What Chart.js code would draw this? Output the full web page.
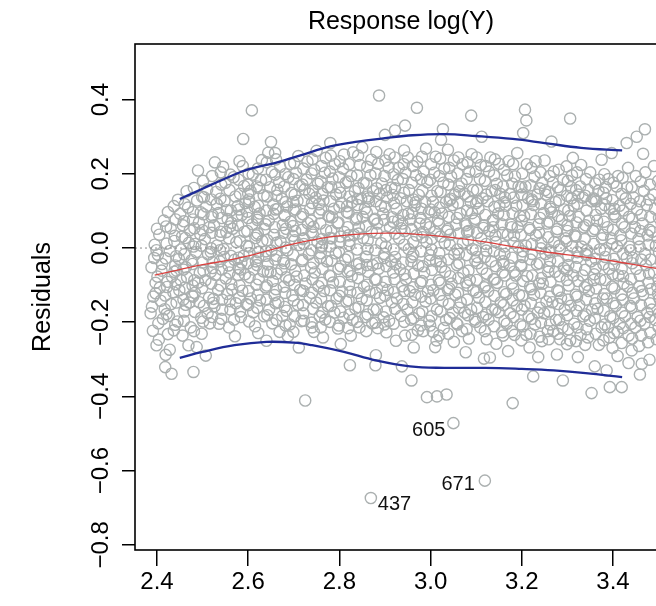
<!DOCTYPE html>
<html>
<head>
<meta charset="utf-8">
<script src="https://cdn.jsdelivr.net/npm/chart.js@4.4.1/dist/chart.umd.min.js"></script>
<style>
html,body{margin:0;padding:0;background:#fff;overflow:hidden;}
canvas{display:block;}
</style>
</head>
<body>
<canvas id="c" width="680" height="606"></canvas>
<script>
const xTicks = [2.4, 2.6, 2.8, 3.0, 3.2, 3.4];
const yTicks = [-0.8, -0.6, -0.4, -0.2, 0.0, 0.2, 0.4];

// fitted value (x), residual (y)
const residPairs = [
[2.388,-0.052],[2.392,-0.131],[2.386,-0.176],[2.395,0.009],[2.391,-0.223],[2.397,-0.094],[2.389,-0.158],[2.394,-0.027],[2.399,-0.262],
[2.405,0.036],[2.41,-0.061],[2.408,-0.142],[2.413,-0.191],[2.404,-0.247],[2.415,0.074],[2.406,-0.107],[2.417,-0.165],[2.402,-0.018],[2.418,-0.321],[2.411,-0.043],[2.419,-0.288],
[2.424,0.097],[2.43,0.053],[2.428,-0.008],[2.433,-0.077],[2.436,-0.119],[2.426,-0.183],[2.428,-0.274],[2.432,-0.339],[2.438,0.019],[2.422,-0.105],[2.437,-0.222],[2.431,-0.151],[2.44,-0.047],
[2.446,0.13],[2.451,0.092],[2.455,0.031],[2.448,-0.029],[2.452,-0.086],[2.458,-0.139],[2.445,-0.198],[2.456,-0.236],[2.449,-0.114],[2.457,0.061],[2.443,-0.061],[2.46,-0.171],[2.453,-0.004],
[2.468,0.109],[2.472,0.048],[2.47,0.014],[2.476,-0.033],[2.466,-0.079],[2.478,-0.101],[2.471,-0.147],[2.474,-0.214],[2.48,-0.334],[2.465,0.153],[2.477,-0.128],[2.469,-0.262],[2.463,-0.052],[2.479,0.077],
[2.49,0.209],[2.488,0.128],[2.492,0.069],[2.495,0.037],[2.486,-0.011],[2.494,-0.067],[2.49,-0.093],[2.498,-0.231],[2.487,-0.267],[2.493,-0.146],[2.497,-0.188],[2.484,0.011],[2.5,-0.039],[2.483,-0.121],[2.496,0.096],
[2.51,0.158],[2.508,0.112],[2.515,0.056],[2.505,0.024],[2.512,-0.017],[2.518,-0.064],[2.506,-0.087],[2.514,-0.134],[2.511,-0.176],[2.516,-0.203],[2.503,0.137],[2.519,-0.001],[2.507,-0.29],[2.52,0.083],
[2.527,0.231],[2.53,0.151],[2.535,0.094],[2.525,0.061],[2.532,0.007],[2.538,-0.036],[2.528,-0.072],[2.534,-0.113],[2.526,-0.157],[2.536,-0.204],[2.531,0.119],[2.522,-0.054],[2.539,0.034],[2.524,-0.137],
[2.545,0.219],[2.55,0.176],[2.548,0.127],[2.555,0.078],[2.552,0.043],[2.546,-0.003],[2.557,-0.047],[2.551,-0.082],[2.554,-0.124],[2.543,-0.166],[2.558,-0.214],[2.553,0.102],[2.547,-0.024],[2.56,-0.143],
[2.571,-0.238],[2.568,0.191],[2.572,0.139],[2.575,0.087],[2.566,0.052],[2.574,0.016],[2.57,-0.032],[2.578,-0.073],[2.565,-0.112],[2.573,-0.149],[2.569,-0.193],[2.577,0.113],[2.563,0.068],[2.579,-0.054],
[2.589,0.294],[2.588,0.221],[2.591,0.167],[2.594,0.121],[2.586,0.089],[2.592,0.044],[2.597,0.006],[2.585,-0.039],[2.593,-0.071],[2.587,-0.115],[2.596,-0.151],[2.584,-0.186],[2.598,0.098],[2.59,-0.021],[2.6,0.146],
[2.608,0.371],[2.61,0.198],[2.605,0.154],[2.614,0.111],[2.609,0.064],[2.616,0.027],[2.603,-0.014],[2.612,-0.058],[2.618,-0.099],[2.606,-0.136],[2.611,-0.173],[2.615,-0.211],[2.602,0.131],[2.617,-0.036],[2.62,0.082],
[2.63,0.237],[2.628,0.183],[2.634,0.142],[2.625,0.093],[2.636,0.051],[2.631,0.019],[2.622,-0.026],[2.633,-0.063],[2.638,-0.106],[2.626,-0.141],[2.635,-0.184],[2.621,0.039],[2.64,-0.25],[2.624,0.162],[2.639,-0.009],
[2.65,0.286],[2.644,0.257],[2.659,0.256],[2.652,0.205],[2.648,0.164],[2.655,0.117],[2.645,0.074],[2.657,0.036],[2.651,-0.007],[2.643,-0.044],[2.654,-0.089],[2.658,-0.127],[2.646,-0.166],[2.653,-0.203],[2.656,0.092],[2.649,-0.065],
[2.67,0.219],[2.668,0.177],[2.674,0.133],[2.665,0.106],[2.676,0.062],[2.671,0.018],[2.662,-0.021],[2.673,-0.058],[2.678,-0.104],[2.666,-0.146],[2.675,-0.183],[2.669,-0.226],[2.664,0.157],[2.677,-0.034],[2.68,0.087],
[2.692,0.227],[2.688,0.191],[2.695,0.148],[2.685,0.112],[2.693,0.071],[2.698,0.033],[2.686,-0.006],[2.694,-0.044],[2.69,-0.087],[2.697,-0.128],[2.684,-0.169],[2.687,-0.238],[2.699,0.124],[2.691,-0.206],[2.683,0.052],
[2.71,0.248],[2.705,0.203],[2.713,0.167],[2.708,0.127],[2.716,0.084],[2.703,0.046],[2.712,0.008],[2.718,-0.035],[2.706,-0.077],[2.714,-0.113],[2.709,-0.153],[2.717,-0.197],[2.704,0.104],[2.711,-0.268],[2.72,0.024],
[2.73,0.233],[2.728,0.184],[2.734,0.146],[2.725,-0.411],[2.736,0.106],[2.731,0.067],[2.722,0.026],[2.733,-0.017],[2.738,-0.053],[2.726,-0.096],[2.735,-0.134],[2.721,-0.176],[2.74,-0.214],[2.724,0.158],[2.739,0.043],
[2.75,0.262],[2.745,0.211],[2.753,0.173],[2.748,0.136],[2.756,0.094],[2.743,0.057],[2.752,0.016],[2.758,-0.026],[2.746,-0.066],[2.754,-0.103],[2.749,-0.147],[2.757,-0.184],[2.744,-0.226],[2.755,0.118],[2.76,0.002],
[2.764,-0.241],[2.77,0.243],[2.768,0.203],[2.774,0.164],[2.765,0.128],[2.776,0.087],[2.771,0.048],[2.762,0.006],[2.773,-0.036],[2.778,-0.074],[2.766,-0.116],[2.775,-0.157],[2.769,-0.193],[2.763,0.147],[2.779,0.027],
[2.78,0.283],[2.79,0.226],[2.785,0.187],[2.793,0.144],[2.788,0.106],[2.796,0.067],[2.783,0.026],[2.792,-0.014],[2.798,-0.056],[2.786,-0.093],[2.794,-0.136],[2.789,-0.174],[2.797,-0.217],[2.784,0.083],[2.8,0.163],
[2.81,0.252],[2.808,0.214],[2.814,0.176],[2.805,0.122],[2.816,0.097],[2.811,0.043],[2.802,0.017],[2.813,-0.031],[2.818,-0.064],[2.806,-0.117],[2.815,-0.144],[2.809,-0.188],[2.803,-0.259],[2.817,0.113],[2.82,0.034],
[2.823,-0.316],[2.824,-0.118],[2.83,0.258],[2.826,0.194],[2.834,0.153],[2.828,0.124],[2.836,0.077],[2.832,0.036],[2.822,0.008],[2.838,-0.044],[2.827,-0.076],[2.835,-0.163],[2.829,-0.194],[2.825,-0.236],[2.84,0.132],
[2.85,0.271],[2.845,0.224],[2.853,0.176],[2.848,0.133],[2.856,0.106],[2.843,0.056],[2.852,0.027],[2.858,-0.023],[2.846,-0.057],[2.854,-0.104],[2.849,-0.137],[2.857,-0.186],[2.844,-0.214],[2.851,0.084],[2.86,-0.046],
[2.869,-0.674],[2.87,0.238],[2.868,0.196],[2.874,0.153],[2.865,0.126],[2.876,0.076],[2.871,0.044],[2.862,-0.003],[2.873,-0.046],[2.878,-0.084],[2.866,-0.117],[2.875,-0.166],[2.88,-0.289],[2.879,-0.316],[2.864,0.134],[2.872,-0.203],
[2.887,0.411],[2.9,0.305],[2.885,0.227],[2.893,0.174],[2.888,0.146],[2.896,0.093],[2.883,0.066],[2.892,0.013],[2.898,-0.027],[2.886,-0.056],[2.894,-0.107],[2.889,-0.134],[2.897,-0.187],[2.884,-0.216],[2.891,0.114],
[2.922,0.317],[2.91,0.253],[2.908,0.217],[2.914,0.163],[2.905,0.136],[2.916,0.083],[2.911,0.056],[2.902,0.004],[2.913,-0.036],[2.918,-0.066],[2.906,-0.113],[2.915,-0.146],[2.909,-0.196],[2.903,-0.227],[2.917,0.143],
[2.944,0.33],[2.942,0.263],[2.924,-0.25],[2.937,-0.319],[2.93,0.216],[2.928,0.183],[2.934,0.134],[2.925,0.106],[2.936,0.053],[2.931,0.026],[2.922,-0.024],[2.933,-0.057],[2.938,-0.103],[2.926,-0.136],[2.935,-0.183],[2.929,0.074],
[2.958,-0.357],[2.95,0.244],[2.945,0.203],[2.953,0.156],[2.948,0.126],[2.956,0.077],[2.943,0.046],[2.952,-0.003],[2.958,-0.036],[2.946,-0.084],[2.954,-0.116],[2.949,-0.166],[2.957,-0.193],[2.944,-0.236],[2.951,0.093],
[2.97,0.378],[2.972,-0.222],[2.971,0.233],[2.968,0.196],[2.974,0.143],[2.965,0.114],[2.976,0.066],[2.969,0.034],[2.962,-0.017],[2.973,-0.047],[2.978,-0.094],[2.966,-0.126],[2.975,-0.176],[2.967,0.123],[2.963,-0.268],
[2.992,-0.402],[2.99,0.268],[2.985,0.206],[2.993,0.177],[2.988,0.124],[2.996,0.096],[2.983,0.043],[2.991,0.016],[2.998,-0.034],[2.986,-0.066],[2.994,-0.117],[2.989,-0.144],[2.997,-0.196],[2.984,-0.224],[2.99,0.064],
[3.005,-0.226],[3.013,-0.249],[3.01,-0.267],[3.014,-0.4],[3.011,0.246],[3.008,0.203],[3.015,0.153],[3.005,0.124],[3.016,0.074],[3.01,0.044],[3.002,-0.004],[3.012,-0.036],[3.018,-0.087],[3.006,-0.114],[3.014,-0.166],[3.009,0.096],
[3.027,0.32],[3.023,0.292],[3.038,0.265],[3.035,-0.395],[3.03,0.214],[3.028,0.176],[3.034,0.124],[3.025,0.093],[3.036,0.046],[3.031,0.014],[3.022,-0.036],[3.032,-0.064],[3.038,-0.113],[3.026,-0.143],[3.034,-0.194],[3.029,-0.216],
[3.05,-0.472],[3.051,0.236],[3.045,0.193],[3.053,0.144],[3.048,0.116],[3.056,0.063],[3.043,0.036],[3.052,-0.017],[3.058,-0.046],[3.046,-0.096],[3.054,-0.126],[3.049,-0.174],[3.057,-0.203],[3.044,0.133],[3.051,-0.253],
[3.07,0.226],[3.068,0.174],[3.074,0.146],[3.065,0.093],[3.076,0.066],[3.071,0.014],[3.062,-0.016],[3.072,-0.067],[3.078,-0.093],[3.066,-0.146],[3.075,-0.174],[3.069,-0.224],[3.063,0.153],[3.077,-0.281],[3.08,0.043],
[3.089,0.357],[3.09,0.253],[3.085,0.206],[3.093,0.156],[3.088,0.124],[3.096,0.074],[3.083,0.046],[3.092,-0.003],[3.098,-0.034],[3.086,-0.086],[3.094,-0.114],[3.089,-0.166],[3.097,-0.193],[3.084,-0.244],[3.091,0.094],
[3.112,0.3],[3.119,-0.627],[3.11,0.224],[3.108,0.186],[3.114,0.134],[3.105,0.106],[3.116,0.054],[3.111,0.026],[3.102,-0.024],[3.113,-0.056],[3.118,-0.106],[3.106,-0.134],[3.115,-0.186],[3.109,-0.214],[3.103,0.126],[3.117,-0.298],
[3.13,-0.295],[3.131,0.244],[3.128,0.206],[3.134,0.153],[3.125,0.126],[3.136,0.074],[3.129,0.046],[3.122,-0.007],[3.133,-0.036],[3.138,-0.084],[3.126,-0.116],[3.135,-0.166],[3.127,-0.193],[3.123,-0.246],[3.137,0.056],
[3.15,0.227],[3.145,0.173],[3.153,0.146],[3.148,0.093],[3.156,0.064],[3.143,0.016],[3.152,-0.017],[3.158,-0.066],[3.146,-0.094],[3.154,-0.146],[3.149,-0.173],[3.157,-0.227],[3.144,-0.258],[3.151,0.114],[3.16,-0.043],
[3.17,-0.278],[3.18,-0.418],[3.171,0.234],[3.168,0.196],[3.174,0.146],[3.165,0.114],[3.176,0.063],[3.169,0.036],[3.162,-0.016],[3.173,-0.047],[3.178,-0.096],[3.166,-0.124],[3.175,-0.176],[3.167,-0.204],[3.163,0.136],
[3.19,0.256],[3.185,0.193],[3.193,0.166],[3.188,0.114],[3.196,0.086],[3.183,0.034],[3.192,0.003],[3.198,-0.046],[3.186,-0.074],[3.194,-0.126],[3.189,-0.156],[3.197,-0.206],[3.184,-0.234],[3.191,0.056],[3.2,0.144],
[3.207,0.373],[3.21,0.344],[3.203,0.31],[3.211,0.226],[3.208,0.166],[3.214,0.134],[3.205,0.086],[3.216,0.054],[3.209,0.006],[3.202,-0.024],[3.212,-0.076],[3.218,-0.104],[3.206,-0.156],[3.215,-0.184],[3.21,-0.234],[3.217,-0.268],
[3.225,-0.346],[3.236,-0.294],[3.23,0.234],[3.228,0.193],[3.234,0.144],[3.226,0.116],[3.237,0.064],[3.231,0.034],[3.222,-0.016],[3.233,-0.044],[3.238,-0.096],[3.227,-0.126],[3.235,-0.174],[3.229,-0.206],[3.223,0.126],
[3.25,0.236],[3.245,0.176],[3.253,0.144],[3.248,0.094],[3.256,0.066],[3.243,0.014],[3.252,-0.016],[3.258,-0.064],[3.246,-0.096],[3.254,-0.144],[3.249,-0.176],[3.257,-0.224],[3.244,-0.251],[3.251,0.156],[3.26,-0.006],
[3.265,0.287],[3.277,-0.287],[3.27,0.206],[3.268,0.176],[3.274,0.124],[3.266,0.096],[3.276,0.044],[3.271,0.016],[3.262,-0.034],[3.273,-0.064],[3.278,-0.114],[3.267,-0.146],[3.275,-0.194],[3.269,-0.224],[3.263,0.106],
[3.29,-0.357],[3.298,0.22],[3.291,0.184],[3.285,0.156],[3.293,0.104],[3.288,0.076],[3.296,0.026],[3.283,-0.004],[3.292,-0.054],[3.299,-0.086],[3.286,-0.134],[3.294,-0.166],[3.289,-0.214],[3.284,-0.246],[3.3,0.046],
[3.306,0.349],[3.312,0.243],[3.306,-0.249],[3.31,0.196],[3.308,0.164],[3.314,0.114],[3.305,0.086],[3.316,0.034],[3.311,0.004],[3.302,-0.046],[3.313,-0.074],[3.318,-0.126],[3.307,-0.156],[3.315,-0.204],[3.309,0.134],
[3.323,-0.294],[3.33,0.224],[3.328,0.166],[3.334,0.136],[3.325,0.084],[3.336,0.056],[3.331,0.004],[3.322,-0.026],[3.333,-0.074],[3.338,-0.106],[3.326,-0.154],[3.335,-0.184],[3.329,-0.234],[3.324,0.144],[3.34,-0.016],
[3.345,-0.241],[3.353,-0.391],[3.36,-0.319],[3.35,0.204],[3.346,0.156],[3.353,0.126],[3.348,0.074],[3.356,0.046],[3.343,-0.006],[3.352,-0.036],[3.358,-0.086],[3.347,-0.116],[3.354,-0.166],[3.349,-0.196],[3.357,0.134],
[3.375,0.238],[3.386,-0.33],[3.37,0.184],[3.368,0.154],[3.374,0.106],[3.365,0.074],[3.376,0.026],[3.371,-0.004],[3.362,-0.054],[3.372,-0.084],[3.378,-0.136],[3.366,-0.164],[3.375,-0.214],[3.369,-0.261],[3.363,0.126],
[3.397,0.256],[3.393,-0.375],[3.392,-0.241],[3.39,0.186],[3.385,0.134],[3.393,0.106],[3.388,0.056],[3.396,0.026],[3.383,-0.024],[3.391,-0.056],[3.398,-0.104],[3.386,-0.136],[3.394,-0.184],[3.389,-0.214],[3.384,0.164],
[3.41,-0.226],[3.419,-0.375],[3.411,0.194],[3.408,0.166],[3.414,0.114],[3.405,0.084],[3.416,0.034],[3.409,0.004],[3.402,-0.046],[3.412,-0.074],[3.418,-0.126],[3.406,-0.156],[3.415,-0.204],[3.41,-0.291],[3.403,0.106],
[3.43,0.283],[3.433,0.216],[3.441,-0.276],[3.434,-0.31],[3.431,0.164],[3.428,0.134],[3.435,0.084],[3.425,0.056],[3.436,0.004],[3.43,-0.026],[3.422,-0.076],[3.432,-0.104],[3.438,-0.156],[3.426,-0.184],[3.434,-0.236],
[3.452,0.3],[3.459,-0.341],[3.466,0.254],[3.463,-0.312],[3.45,0.194],[3.445,0.136],[3.453,0.104],[3.448,0.056],[3.456,0.024],[3.443,-0.026],[3.451,-0.056],[3.458,-0.104],[3.446,-0.136],[3.454,-0.186],[3.449,-0.214],[3.457,-0.264],
[3.47,0.32],[3.471,0.204],[3.468,0.154],[3.474,0.116],[3.465,0.066],[3.476,0.034],[3.47,-0.016],[3.472,-0.046],[3.478,-0.094],[3.466,-0.126],[3.475,-0.174],[3.469,-0.204],[3.477,-0.254],[3.48,-0.301],
[3.49,0.221],[3.488,0.144],[3.492,0.106],[3.486,0.044],[3.494,0.006],[3.49,-0.066],[3.497,-0.104],[3.485,-0.166],[3.493,-0.194],[3.496,-0.246],[3.503,0.126],[3.505,-0.036],[3.502,-0.137],[3.507,0.066]
];

// further observations filling the dense central band
const residPairsCore = [
[2.399,-0.006],[2.401,-0.077],[2.397,-0.122],[2.403,-0.203],[2.4,0.052],
[2.421,0.012],[2.419,-0.028],[2.423,-0.091],[2.418,-0.128],[2.421,-0.178],[2.424,-0.232],[2.42,0.058],
[2.441,0.077],[2.439,0.033],[2.442,-0.022],[2.438,-0.064],[2.441,-0.098],[2.443,-0.147],[2.44,-0.207],[2.437,0.113],
[2.461,0.118],[2.459,0.072],[2.462,0.027],[2.46,-0.017],[2.458,-0.058],[2.461,-0.107],[2.463,-0.153],[2.459,-0.196],
[2.481,0.162],[2.479,0.097],[2.482,0.053],[2.48,0.004],[2.478,-0.043],[2.482,-0.087],[2.479,-0.131],[2.483,-0.172],[2.481,-0.224],
[2.501,0.181],[2.499,0.138],[2.502,0.091],[2.5,0.048],[2.498,0.006],[2.502,-0.061],[2.499,-0.108],[2.503,-0.156],[2.501,-0.198],
[2.521,0.194],[2.519,0.131],[2.522,0.088],[2.52,0.041],[2.518,-0.011],[2.522,-0.038],[2.519,-0.096],[2.523,-0.148],[2.521,-0.186],
[2.541,0.171],[2.539,0.133],[2.542,0.081],[2.54,0.044],[2.538,-0.006],[2.542,-0.058],[2.539,-0.101],[2.543,-0.139],[2.541,-0.191],[2.54,0.204],
[2.561,0.198],[2.559,0.156],[2.562,0.101],[2.56,0.058],[2.558,0.026],[2.562,-0.021],[2.559,-0.066],[2.563,-0.098],[2.561,-0.166],
[2.581,0.234],[2.579,0.184],[2.582,0.146],[2.58,0.104],[2.578,0.061],[2.582,0.019],[2.579,-0.026],[2.583,-0.058],[2.581,-0.101],[2.58,-0.134],[2.582,-0.171],
[2.601,0.201],[2.599,0.171],[2.602,0.124],[2.6,0.081],[2.598,0.046],[2.602,0.004],[2.599,-0.041],[2.603,-0.079],[2.601,-0.116],[2.6,-0.154],[2.602,-0.198],
[2.621,0.214],[2.619,0.166],[2.622,0.114],[2.62,0.076],[2.618,0.034],[2.622,-0.011],[2.619,-0.046],[2.623,-0.084],[2.621,-0.126],[2.62,-0.161],[2.622,-0.229],
[2.641,0.231],[2.639,0.184],[2.642,0.139],[2.64,0.101],[2.638,0.064],[2.642,0.021],[2.639,-0.021],[2.643,-0.064],[2.641,-0.101],[2.64,-0.139],[2.642,-0.181],
[2.661,0.239],[2.659,0.198],[2.662,0.141],[2.66,0.104],[2.658,0.056],[2.662,0.014],[2.659,-0.031],[2.663,-0.069],[2.661,-0.111],[2.66,-0.149],[2.662,-0.194],
[2.681,0.199],[2.679,0.166],[2.682,0.124],[2.68,0.089],[2.678,0.041],[2.682,0.001],[2.679,-0.041],[2.683,-0.079],[2.681,-0.121],[2.68,-0.159],[2.682,-0.209],
[2.701,0.229],[2.699,0.186],[2.702,0.144],[2.7,0.101],[2.698,0.059],[2.702,0.021],[2.699,-0.019],[2.703,-0.061],[2.701,-0.099],[2.7,-0.141],[2.702,-0.184],[2.699,-0.226],
[2.721,0.214],[2.719,0.171],[2.722,0.129],[2.72,0.091],[2.718,0.049],[2.722,0.011],[2.719,-0.031],[2.723,-0.074],[2.721,-0.116],[2.72,-0.154],[2.722,-0.196],
[2.741,0.239],[2.739,0.201],[2.742,0.154],[2.74,0.121],[2.738,0.074],[2.742,0.036],[2.739,-0.006],[2.743,-0.041],[2.741,-0.084],[2.74,-0.121],[2.742,-0.164],[2.739,-0.201],
[2.761,0.221],[2.759,0.179],[2.762,0.146],[2.76,0.104],[2.758,0.066],[2.762,0.024],[2.759,-0.014],[2.763,-0.056],[2.761,-0.094],[2.76,-0.136],[2.762,-0.174],[2.759,-0.214],
[2.781,0.249],[2.779,0.206],[2.782,0.164],[2.78,0.126],[2.778,0.084],[2.782,0.046],[2.779,0.004],[2.783,-0.034],[2.781,-0.076],[2.78,-0.114],[2.782,-0.156],[2.779,-0.199],
[2.801,0.234],[2.799,0.191],[2.802,0.149],[2.8,0.111],[2.798,0.069],[2.802,0.031],[2.799,-0.011],[2.803,-0.049],[2.801,-0.091],[2.8,-0.129],[2.802,-0.171],[2.799,-0.209],
[2.821,0.226],[2.819,0.179],[2.822,0.139],[2.82,0.094],[2.818,0.056],[2.822,0.019],[2.819,-0.024],[2.823,-0.061],[2.821,-0.099],[2.82,-0.141],[2.822,-0.179],[2.819,-0.216],
[2.841,0.249],[2.839,0.196],[2.842,0.161],[2.84,0.116],[2.838,0.081],[2.842,0.039],[2.839,-0.004],[2.843,-0.041],[2.841,-0.081],[2.84,-0.121],[2.842,-0.159],[2.839,-0.199],
[2.861,0.219],[2.859,0.174],[2.862,0.139],[2.86,0.096],[2.858,0.059],[2.862,0.021],[2.859,-0.024],[2.863,-0.064],[2.861,-0.099],[2.86,-0.141],[2.862,-0.179],[2.859,-0.224],
[2.881,0.259],[2.879,0.201],[2.882,0.161],[2.88,0.126],[2.878,0.079],[2.882,0.041],[2.879,-0.006],[2.883,-0.041],[2.881,-0.086],[2.88,-0.121],[2.882,-0.166],[2.879,-0.201],
[2.901,0.236],[2.899,0.194],[2.902,0.156],[2.9,0.111],[2.898,0.076],[2.902,0.031],[2.899,-0.016],[2.903,-0.049],[2.901,-0.091],[2.9,-0.129],[2.902,-0.171],[2.899,-0.206],
[2.921,0.244],[2.919,0.199],[2.922,0.161],[2.92,0.121],[2.918,0.071],[2.922,0.039],[2.919,-0.004],[2.923,-0.044],[2.921,-0.084],[2.92,-0.119],[2.922,-0.164],[2.919,-0.204],
[2.941,0.226],[2.939,0.186],[2.942,0.149],[2.94,0.089],[2.938,0.066],[2.942,0.009],[2.939,-0.039],[2.943,-0.071],[2.941,-0.116],[2.94,-0.151],[2.942,-0.199],
[2.961,0.221],[2.959,0.176],[2.962,0.131],[2.96,0.094],[2.958,0.051],[2.962,0.016],[2.959,-0.024],[2.963,-0.069],[2.961,-0.106],[2.96,-0.146],[2.962,-0.189],[2.959,-0.234],
[2.981,0.246],[2.979,0.186],[2.982,0.154],[2.98,0.106],[2.978,0.081],[2.982,0.029],[2.979,-0.009],[2.983,-0.049],[2.981,-0.089],[2.98,-0.131],[2.982,-0.171],[2.979,-0.209],
[3.001,0.226],[2.999,0.184],[3.002,0.141],[3.0,0.104],[2.998,0.056],[3.002,0.024],[2.999,-0.019],[3.003,-0.059],[3.001,-0.099],[3.0,-0.136],[3.002,-0.184],[2.999,-0.209],
[3.021,0.241],[3.019,0.194],[3.022,0.151],[3.02,0.109],[3.018,0.066],[3.022,0.031],[3.019,-0.014],[3.023,-0.051],[3.021,-0.094],[3.02,-0.126],[3.022,-0.171],[3.019,-0.236],
[3.041,0.216],[3.039,0.171],[3.042,0.129],[3.04,0.084],[3.038,0.051],[3.042,0.009],[3.039,-0.031],[3.043,-0.076],[3.041,-0.109],[3.04,-0.151],[3.042,-0.189],[3.039,-0.231],
[3.061,0.244],[3.059,0.201],[3.062,0.166],[3.06,0.121],[3.058,0.081],[3.062,0.039],[3.059,-0.004],[3.063,-0.041],[3.061,-0.081],[3.06,-0.121],[3.062,-0.161],[3.059,-0.206],
[3.081,0.231],[3.079,0.186],[3.082,0.139],[3.08,0.101],[3.078,0.061],[3.082,0.021],[3.079,-0.019],[3.083,-0.061],[3.081,-0.101],[3.08,-0.139],[3.082,-0.181],[3.079,-0.219],
[3.101,0.244],[3.099,0.206],[3.102,0.156],[3.1,0.121],[3.098,0.079],[3.102,0.041],[3.099,-0.006],[3.103,-0.041],[3.101,-0.086],[3.1,-0.119],[3.102,-0.161],[3.099,-0.199],
[3.121,0.221],[3.119,0.181],[3.122,0.144],[3.12,0.089],[3.118,0.061],[3.122,0.011],[3.119,-0.024],[3.123,-0.069],[3.121,-0.101],[3.12,-0.146],[3.122,-0.179],[3.119,-0.224],
[3.141,0.239],[3.139,0.196],[3.142,0.156],[3.14,0.111],[3.138,0.076],[3.142,0.034],[3.139,-0.009],[3.143,-0.049],[3.141,-0.084],[3.14,-0.129],[3.142,-0.166],[3.139,-0.211],
[3.161,0.211],[3.159,0.166],[3.162,0.124],[3.16,0.089],[3.158,0.041],[3.162,0.004],[3.159,-0.036],[3.163,-0.074],[3.161,-0.119],[3.16,-0.154],[3.162,-0.196],[3.159,-0.236],
[3.181,0.226],[3.179,0.174],[3.182,0.136],[3.18,0.094],[3.178,0.056],[3.182,0.014],[3.179,-0.026],[3.183,-0.064],[3.181,-0.109],[3.18,-0.141],[3.182,-0.186],[3.179,-0.224],
[3.201,0.201],[3.199,0.164],[3.202,0.116],[3.2,0.074],[3.198,0.036],[3.202,-0.009],[3.199,-0.049],[3.203,-0.089],[3.201,-0.129],[3.2,-0.166],[3.202,-0.211],[3.199,-0.249],
[3.221,0.216],[3.219,0.169],[3.222,0.131],[3.22,0.091],[3.218,0.049],[3.222,0.011],[3.219,-0.031],[3.223,-0.074],[3.221,-0.111],[3.22,-0.149],[3.222,-0.191],[3.219,-0.231],
[3.241,0.204],[3.239,0.161],[3.242,0.119],[3.24,0.081],[3.238,0.041],[3.242,-0.001],[3.239,-0.041],[3.243,-0.081],[3.241,-0.121],[3.24,-0.161],[3.242,-0.201],[3.239,-0.239],
[3.261,0.194],[3.259,0.151],[3.262,0.111],[3.26,0.071],[3.258,0.029],[3.262,-0.011],[3.259,-0.051],[3.263,-0.091],[3.261,-0.131],[3.26,-0.171],[3.262,-0.206],[3.259,-0.246],
[3.281,0.211],[3.279,0.164],[3.282,0.129],[3.28,0.086],[3.278,0.051],[3.282,0.006],[3.279,-0.036],[3.283,-0.076],[3.281,-0.116],[3.28,-0.151],[3.282,-0.194],[3.279,-0.231],
[3.301,0.181],[3.299,0.141],[3.302,0.101],[3.3,0.061],[3.298,0.019],[3.302,-0.021],[3.299,-0.061],[3.303,-0.101],[3.301,-0.139],[3.3,-0.181],[3.302,-0.219],[3.299,-0.259],
[3.321,0.204],[3.319,0.156],[3.322,0.119],[3.32,0.069],[3.318,0.031],[3.322,-0.011],[3.319,-0.051],[3.323,-0.089],[3.321,-0.131],[3.32,-0.169],[3.322,-0.214],[3.319,-0.251],
[3.341,0.186],[3.339,0.141],[3.342,0.101],[3.34,0.061],[3.338,0.024],[3.342,-0.019],[3.339,-0.059],[3.343,-0.099],[3.341,-0.139],[3.34,-0.179],[3.342,-0.219],[3.339,-0.261],
[3.361,0.174],[3.359,0.131],[3.362,0.089],[3.36,0.051],[3.358,0.011],[3.362,-0.029],[3.359,-0.071],[3.363,-0.109],[3.361,-0.149],[3.36,-0.189],[3.362,-0.231],
[3.381,0.199],[3.379,0.149],[3.382,0.116],[3.38,0.071],[3.378,0.036],[3.382,-0.006],[3.379,-0.044],[3.383,-0.086],[3.381,-0.124],[3.38,-0.169],[3.382,-0.206],[3.379,-0.249],
[3.401,0.176],[3.399,0.129],[3.402,0.091],[3.4,0.049],[3.398,0.011],[3.402,-0.029],[3.399,-0.071],[3.403,-0.109],[3.401,-0.149],[3.4,-0.189],[3.402,-0.229],[3.399,-0.269],
[3.421,0.189],[3.419,0.146],[3.422,0.101],[3.42,0.066],[3.418,0.021],[3.422,-0.016],[3.419,-0.056],[3.423,-0.096],[3.421,-0.139],[3.42,-0.174],[3.422,-0.216],[3.419,-0.256],
[3.441,0.164],[3.439,0.119],[3.442,0.079],[3.44,0.039],[3.438,-0.006],[3.442,-0.041],[3.439,-0.084],[3.443,-0.121],[3.441,-0.161],[3.44,-0.204],[3.442,-0.244],
[3.461,0.179],[3.459,0.126],[3.462,0.089],[3.46,0.046],[3.458,0.004],[3.462,-0.031],[3.459,-0.074],[3.463,-0.116],[3.461,-0.154],[3.46,-0.196],[3.462,-0.236],
[3.481,0.171],[3.479,0.131],[3.482,0.084],[3.48,0.049],[3.478,0.009],[3.482,-0.031],[3.479,-0.069],[3.483,-0.111],[3.481,-0.149],[3.48,-0.186],[3.482,-0.229],
[3.499,0.181],[3.501,0.081],[3.498,0.029],[3.501,-0.011],[3.5,-0.084],[3.499,-0.124],[3.501,-0.176],[3.5,-0.214]
];

const upperX = [2.45, 2.50, 2.56, 2.60, 2.67, 2.72, 2.78, 2.84, 2.90, 2.96, 3.03, 3.10, 3.18, 3.25, 3.33, 3.42];
const upperY = [0.132, 0.160, 0.193, 0.212, 0.233, 0.252, 0.274, 0.287, 0.296, 0.304, 0.307, 0.302, 0.294, 0.283, 0.270, 0.263];
const meanX = [2.395, 2.45, 2.50, 2.56, 2.62, 2.70, 2.78, 2.85, 2.91, 2.97, 3.03, 3.10, 3.18, 3.25, 3.33, 3.40, 3.47, 3.52];
const meanY = [-0.073, -0.058, -0.045, -0.032, -0.015, 0.011, 0.030, 0.038, 0.040, 0.037, 0.031, 0.020, 0.004, -0.010, -0.023, -0.035, -0.050, -0.060];
const lowerX = [2.45, 2.50, 2.57, 2.64, 2.70, 2.74, 2.81, 2.88, 2.955, 3.03, 3.12, 3.20, 3.27, 3.34, 3.42];
const lowerY = [-0.296, -0.280, -0.262, -0.253, -0.255, -0.262, -0.280, -0.303, -0.319, -0.323, -0.323, -0.326, -0.330, -0.337, -0.348];

const labelIds = ['605', '671', '437'];
const labelX = [3.05, 3.119, 2.869];
const labelY = [-0.472, -0.627, -0.674];

const X_MIN = 2.3518, X_MAX = 3.5184, Y_MIN = -0.814, Y_MAX = 0.550;
const FONT = "'Liberation Sans', Arial, Helvetica, sans-serif";
const fmt = v => Number(v).toFixed(1).replace('-', '\u2212');
const zip = (xs, ys) => xs.map((x, i) => ({x: x, y: ys[i]}));

const framePlugin = {
  id: 'frame',
  afterDatasetsDraw(chart) {
    const a = chart.chartArea, ctx = chart.ctx;
    ctx.save();
    ctx.strokeStyle = '#000';
    ctx.lineWidth = 1.6;
    ctx.strokeRect(a.left, a.top, a.right - a.left, a.bottom - a.top);
    ctx.restore();
  }
};

const pointLabelPlugin = {
  id: 'pointLabels',
  afterDatasetsDraw(chart) {
    const ctx = chart.ctx, xs = chart.scales.x, ys = chart.scales.y;
    const offs = [[-8, 7, 'right'], [-10, 4, 'right'], [7, 6, 'left']];
    ctx.save();
    ctx.font = '20px ' + FONT;
    ctx.fillStyle = '#111';
    ctx.textBaseline = 'middle';
    labelIds.forEach((t, i) => {
      const px = xs.getPixelForValue(labelX[i]);
      const py = ys.getPixelForValue(labelY[i]);
      ctx.textAlign = offs[i][2];
      ctx.fillText(t, px + offs[i][0], py + offs[i][1]);
    });
    ctx.restore();
  }
};

new Chart(document.getElementById('c'), {
  type: 'scatter',
  data: {
    datasets: [
      {
        label: 'upper', data: zip(upperX, upperY), showLine: true, pointRadius: 0,
        borderColor: '#1f2c97', borderWidth: 2.3, tension: 0.4, order: 1
      },
      {
        label: 'lower', data: zip(lowerX, lowerY), showLine: true, pointRadius: 0,
        borderColor: '#1f2c97', borderWidth: 2.3, tension: 0.4, order: 1
      },
      {
        label: 'mean', data: zip(meanX, meanY), showLine: true, pointRadius: 0,
        borderColor: '#d9413f', borderWidth: 1.3, tension: 0.4, order: 2
      },
      {
        label: 'zero', data: [{x: X_MIN, y: 0}, {x: X_MAX, y: 0}], showLine: true, pointRadius: 0,
        borderColor: '#8c8c8c', borderWidth: 1, borderDash: [2, 3], order: 3
      },
      {
        label: 'residuals', data: residPairs.concat(residPairsCore).map(p => ({x: p[0], y: p[1]})),
        pointRadius: 5.6, pointBorderWidth: 1.4, pointBorderColor: '#abb0b0',
        pointBackgroundColor: 'rgba(0,0,0,0)', borderColor: '#abb0b0', order: 4
      }
    ]
  },
  options: {
    responsive: false,
    animation: false,
    events: [],
    layout: {padding: {top: 0, right: 13, bottom: 0, left: 0}},
    plugins: {
      legend: {display: false},
      tooltip: {enabled: false},
      title: {
        display: true, text: 'Response log(Y)', fullSize: false, color: '#000',
        font: {family: FONT, size: 25, weight: 'normal', lineHeight: 1.2},
        padding: {top: 7, bottom: 7}
      }
    },
    scales: {
      x: {
        type: 'linear', position: 'bottom', min: X_MIN, max: X_MAX,
        afterBuildTicks: s => { s.ticks = xTicks.map(v => ({value: v})); },
        afterFit: s => { s.height = 56; },
        border: {display: false},
        grid: {drawOnChartArea: false, drawTicks: true, tickLength: 16, color: '#000', lineWidth: 1.5},
        ticks: {
          autoSkip: false, maxRotation: 0, minRotation: 0, padding: 2, color: '#000',
          font: {family: FONT, size: 24}, callback: v => fmt(v)
        }
      },
      y: {
        type: 'linear', position: 'left', min: Y_MIN, max: Y_MAX,
        afterBuildTicks: s => { s.ticks = yTicks.map(v => ({value: v})); },
        afterFit: s => { s.width = 135; },
        border: {display: false},
        grid: {drawOnChartArea: false, drawTicks: true, tickLength: 13, color: '#000', lineWidth: 1.5},
        ticks: {
          autoSkip: false, minRotation: 90, maxRotation: 90, crossAlign: 'center', padding: -3,
          color: '#000', font: {family: FONT, size: 24}, callback: v => fmt(v)
        },
        title: {
          display: true, text: 'Residuals', color: '#000',
          font: {family: FONT, size: 25, weight: 'normal'}, padding: {top: 28, bottom: 0}
        }
      }
    }
  },
  plugins: [framePlugin, pointLabelPlugin]
});
</script>
</body>
</html>
